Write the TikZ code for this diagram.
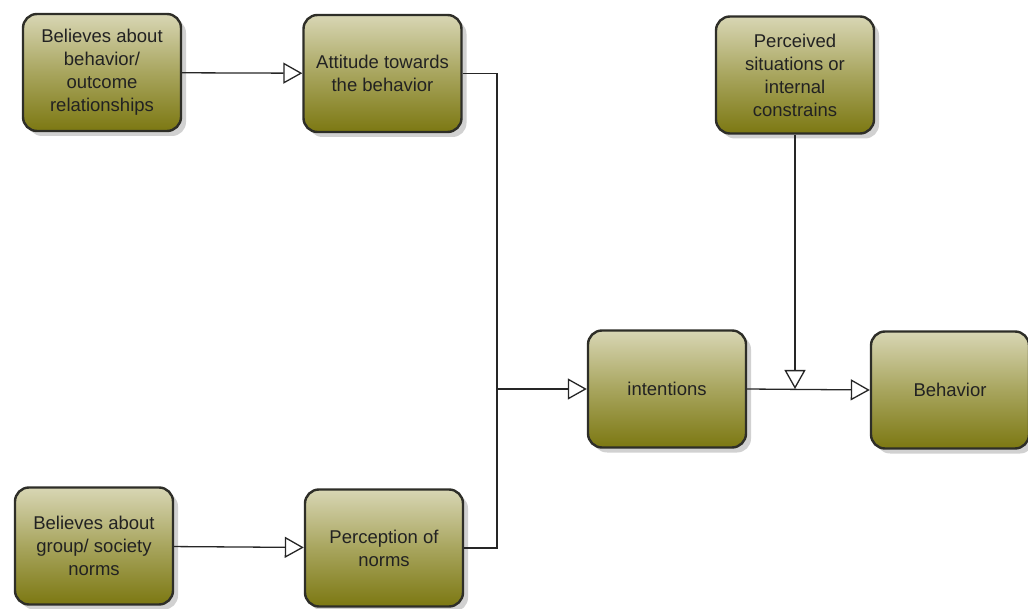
\documentclass[tikz,border=0pt]{standalone}
\usepackage{fontspec}
\setmainfont{Liberation Sans}
\usetikzlibrary{arrows.meta,shadows}
\definecolor{boxtop}{HTML}{D8D6B4}
\definecolor{boxmid}{HTML}{A8A55E}
\definecolor{boxbot}{HTML}{7C7812}
\definecolor{boxedge}{HTML}{2E2E28}
\definecolor{txt}{HTML}{222222}
\tikzset{
  stage/.style={rectangle, rounded corners=14pt, draw=boxedge, line width=2.4pt,
    top color=boxtop, bottom color=boxbot, middle color=boxmid,
    minimum width=158pt, minimum height=117pt, align=center,
    font=\fontsize{18.5}{23}\selectfont, text=txt,
    drop shadow={shadow xshift=5pt, shadow yshift=-5pt, fill=black!30, opacity=0.6}},
  link/.style={line width=1.3pt, draw=black!85},
  openarrow/.style={link, -{Triangle[open, length=19pt, width=21pt, line width=1.3pt, fill=white]}}
}
\begin{document}
\begin{tikzpicture}[x=1pt, y=-1pt]
  \useasboundingbox (0,0) rectangle (1028,609);
  % boxes
  \node[stage] (bel1) at (102,72.5) {Believes about\\behavior/\\outcome\\relationships};
  \node[stage] (att) at (382.5,73.5) {Attitude towards\\the behavior};
  \node[stage] (per) at (795,75) {Perceived\\situations or\\internal\\constrains};
  \node[stage] (int) at (667,389) {intentions};
  \node[stage] (beh) at (950,390) {Behavior};
  \node[stage] (bel2) at (94,546) {Believes about\\group/ society\\norms};
  \node[stage] (nor) at (384,548) {Perception of\\norms};
  % junctions
  \coordinate (merge) at (497,389);
  \coordinate (gate) at (per.south |- int.east);
  % connectors
  \draw[openarrow] (bel1) -- (att);
  \draw[openarrow] (bel2) -- (nor);
  \draw[link] (att.east) -| (merge);
  \draw[link] (nor.east) -| (merge);
  \draw[openarrow] (merge) -- (int.west);
  \draw[openarrow] (int.east) -- (beh.west);
  \draw[openarrow] (per.south) -- (gate);
\end{tikzpicture}
\end{document}
